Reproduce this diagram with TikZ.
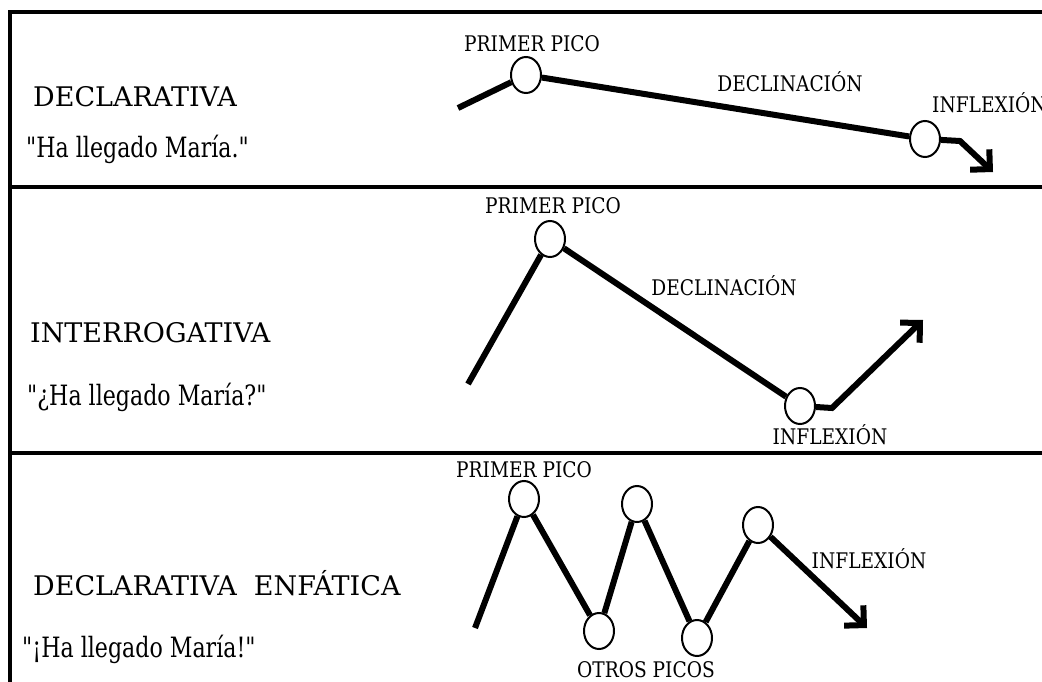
\documentclass[tikz,border=0pt]{standalone}
\usepackage{fontspec}
\setmainfont{DejaVu Serif}[Ligatures=TeXOff]
\usetikzlibrary{arrows.meta,shapes.geometric}
\newcommand\xsq[2]{\scalebox{#1}[1]{#2}}
\begin{document}
\begin{tikzpicture}[x=1pt,y=-1pt,
  framel/.style={line width=3.5pt},
  pitch/.style={line width=6pt, line join=miter},
  tipline/.style={pitch, -{Straight Barb[length=14pt,width=28pt,line cap=butt,line join=miter]}},
  peak/.style={ellipse, draw, line width=2pt, fill=white, minimum width=30pt, minimum height=36pt, inner sep=0pt},
  bigtxt/.style={anchor=base west, inner sep=0pt, font=\fontsize{27}{27}\selectfont},
  senttxt/.style={anchor=base west, inner sep=0pt, font=\fontsize{28}{28}\selectfont},
  lbl/.style={anchor=base, inner sep=0pt, font=\fontsize{21.5}{21.5}\selectfont},
  lblw/.style={lbl, anchor=base west},
]
\useasboundingbox (0,0) rectangle (1042,682);
% frame
\draw[framel] (10,686) -- (10,12) -- (1046,12);
\draw[framel] (10,187) -- (1046,187);
\draw[framel] (10,453) -- (1046,453);

% ---------- panel 1 ----------
\node[bigtxt] (t1) at (33,107) {DECLARATIVA};
\node[senttxt] (s1) at (26,158) {\xsq{0.79}{"Ha llegado María."}};
\node[lbl] (pp1) at (532,52) {\xsq{0.865}{PRIMER PICO}};
\node[lbl] (dc1) at (790,92) {\xsq{0.865}{DECLINACIÓN}};
\node[lblw] (in1) at (932,113) {\xsq{0.865}{INFLEXIÓN}};
\node[peak] (A1) at (526,75) {};
\node[peak] (B1) at (925,139) {};
\coordinate (st1) at (458,108);
\coordinate (h1) at (960,141);
\coordinate (tp1) at (993,172);
\draw[pitch] (st1) -- (A1);
\draw[pitch] (A1) -- (B1);
\draw[tipline] (B1) -- (h1) -- (tp1);

% ---------- panel 2 ----------
\node[bigtxt] (t2) at (30,342) {INTERROGATIVA};
\node[senttxt] (s2) at (27,405) {\xsq{0.79}{"¿Ha llegado María?"}};
\node[lbl] (pp2) at (553,213) {\xsq{0.865}{PRIMER PICO}};
\node[lbl] (dc2) at (724,295) {\xsq{0.865}{DECLINACIÓN}};
\node[lbl] (in2) at (830,444) {\xsq{0.865}{INFLEXIÓN}};
\node[peak] (A2) at (550,239) {};
\node[peak] (B2) at (800,406) {};
\coordinate (st2) at (468,384);
\coordinate (h2) at (832,408);
\coordinate (tp2) at (923,320);
\draw[pitch] (st2) -- (A2);
\draw[pitch] (A2) -- (B2);
\draw[tipline] (B2) -- (h2) -- (tp2);

% ---------- panel 3 ----------
\node[bigtxt] (t3) at (33,595) {DECLARATIVA\ \ ENFÁTICA};
\node[senttxt] (s3) at (22,657) {\xsq{0.79}{"¡Ha llegado María!"}};
\node[lbl] (pp3) at (524,477) {\xsq{0.865}{PRIMER PICO}};
\node[lbl] (op3) at (646,677) {\xsq{0.865}{OTROS PICOS}};
\node[lbl] (in3) at (869,568) {\xsq{0.865}{INFLEXIÓN}};
\node[peak] (P1) at (524,499) {};
\node[peak] (L1) at (599,631) {};
\node[peak] (P2) at (637,504) {};
\node[peak] (L2) at (697,638) {};
\node[peak] (P3) at (758,525) {};
\coordinate (st3) at (475,628);
\coordinate (tp3) at (867,628);
\draw[pitch] (st3) -- (P1);
\draw[pitch] (P1) -- (L1);
\draw[pitch] (L1) -- (P2);
\draw[pitch] (P2) -- (L2);
\draw[pitch] (L2) -- (P3);
\draw[tipline] (P3) -- (tp3);
\end{tikzpicture}
\end{document}
